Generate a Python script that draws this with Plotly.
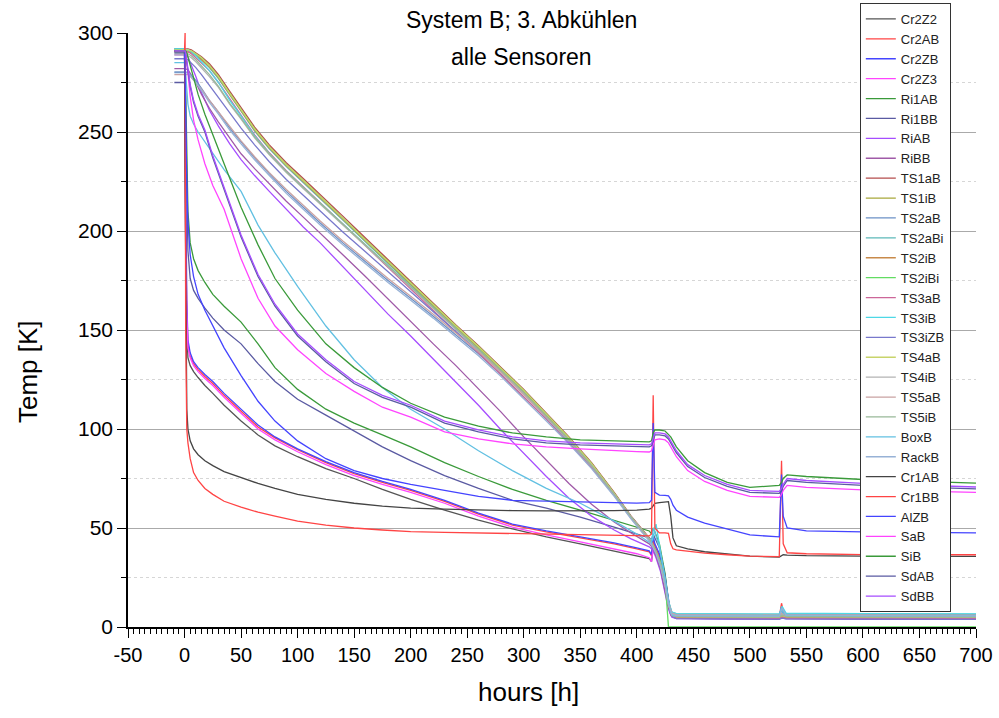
import plotly.graph_objects as go

HOURS_FAST = [-9, 0, 0.5, 1, 2, 3, 5, 8, 12, 18, 25, 35, 50, 65, 80, 100, 125, 150, 175, 200,
              230, 260, 290, 320, 350, 380, 400, 411, 413, 414.5, 416, 420, 425, 428, 430, 432,
              435, 445, 460, 480, 500, 526, 528, 529.5, 533, 550, 600, 700]
HOURS_SLOW = [-9, 0, 3, 6, 10, 15, 22, 30, 40, 50, 62, 75, 90, 105, 120, 140, 160, 180, 200, 220,
              240, 260, 280, 300, 320, 340, 360, 380, 395, 405, 411, 414, 417, 421, 425, 428, 431,
              435, 470, 526, 528.5, 532, 600, 700]

# X tick labels (plain hyphen for the negative value)
X_TICKS = [-50, 0, 50, 100, 150, 200, 250, 300, 350, 400, 450, 500, 550, 600, 650, 700]
X_LABELS = ["-50", "0", "50", "100", "150", "200", "250", "300", "350", "400",
            "450", "500", "550", "600", "650", "700"]

# Temperatures [K] on HOURS_FAST
cr2z2 = [291, 291, 250, 190, 150, 136, 132, 129, 126, 122, 118, 112, 104, 97, 91.5, 86, 80, 75, 69.5, 64.5,
         59, 54, 49.5, 45.5, 42, 38.5, 36, 34.5, 33, 40, 37, 33, 22, 11, 6, 5,
         4.7, 4.5, 4.4, 4.3, 4.3, 4.3, 6, 4.8, 4.5, 4.4, 4.3, 4.3]
cr2ab = [291, 291, 260, 200, 160, 143, 137, 133, 130, 126.5, 123, 117, 109, 101, 95.5, 89.5, 83, 77.5, 73, 69,
         63.5, 57, 51.5, 48, 45, 42, 39.5, 38, 36, 44, 41, 36, 24, 12, 6.5, 5.5,
         5.4, 5.2, 5.1, 5, 5, 5, 12, 8, 5.6, 5.4, 5.3, 5.3]
cr2zb = [291, 291, 265, 210, 165, 145, 138.5, 134, 131, 127.5, 124, 118, 110, 102, 96, 90, 83.5, 78, 73.5, 69.5,
         64, 57.5, 52, 48.5, 45.5, 42.5, 40, 38.5, 36.5, 46, 42, 37, 25, 13, 7, 6,
         5.8, 5.6, 5.5, 5.4, 5.4, 5.4, 10, 6.5, 5.8, 5.6, 5.5, 5.5]
cr2z3 = [291, 291, 255, 195, 158, 141, 136, 132, 129, 125.5, 122, 116, 108, 100, 94.5, 88.5, 82, 76.5, 72, 68,
         62.5, 56, 50.5, 46.5, 43, 39.5, 37, 35, 33, 40, 38, 34, 22, 11, 6, 5,
         4.8, 4.6, 4.5, 4.4, 4.4, 4.4, 7, 5, 4.6, 4.5, 4.4, 4.4]
ri1ab = [291, 291, 288, 270, 235, 210, 194, 186, 180, 174, 168, 162, 154, 143, 131, 120, 110, 103, 97, 91,
         83, 76, 69.5, 64, 59, 54, 50.5, 48.5, 47, 50, 48, 42, 27, 13, 7, 5.5,
         5, 4.8, 4.7, 4.6, 4.6, 4.6, 5.5, 5, 4.7, 4.6, 4.5, 4.5]
ri1bb = [275, 275, 268, 250, 215, 190, 176, 170, 166, 161, 156, 150, 143, 133, 124, 115, 107, 99, 91, 84,
         76.5, 70, 64, 60, 55.5, 50.5, 47, 45, 44, 47, 45, 40, 26, 12, 6.5, 5,
         4.5, 4.3, 4.2, 4.1, 4.1, 4.1, 4.8, 4.4, 4.2, 4.1, 4, 4]
boxb = [285, 285, 283, 278, 270, 264, 258, 254, 250, 245, 239, 231, 220, 203, 189, 172, 152, 135, 121, 110,
        100, 89, 79, 70, 62.5, 53.5, 47, 43, 42, 50, 48, 40, 25, 13, 7, 5.8,
        5.7, 5.6, 5.6, 5.6, 5.6, 5.6, 10, 7, 5.8, 5.7, 5.6, 5.6]
cr1ab = [291, 291, 230, 160, 110, 100, 94, 90, 87, 84, 81.5, 78.5, 75.5, 72.5, 70, 67, 64.5, 62.5, 61, 60,
         59.5, 59, 58.8, 58.6, 58.6, 58.8, 59, 59.5, 60, 61.5, 62.5, 62.8, 63, 63.3, 56, 45,
         41, 39.5, 38, 36.8, 35.8, 35.3, 36, 36.5, 36.3, 36, 35.8, 35.7]
cr1bb = [291, 291, 300, 150, 100, 93, 85, 78, 74, 70, 67, 63.5, 60.5, 58, 56, 53.5, 51.5, 50, 49, 48.2,
         47.8, 47.5, 47.2, 47, 46.7, 46.4, 46.2, 46, 47, 117, 50, 47.5, 47.5, 47.3, 42, 39.5,
         39, 38.2, 37.3, 36.5, 35.8, 35.5, 84, 42, 37.5, 37, 36.6, 36.5]
alzb = [291, 291, 280, 255, 225, 205, 188, 177, 168, 160, 152, 141, 127, 114, 104, 94, 85, 79, 75, 72,
        69, 66, 64, 63.5, 63, 62.8, 62.6, 62.8, 64, 103, 68, 66.6, 66.5, 66.2, 64.5, 61.5,
        59, 55.5, 52.5, 49.5, 46.5, 45.5, 77, 56, 50, 48.5, 48, 47.5]
sab = [291, 291, 291, 290, 286, 280, 268, 256, 246, 234, 223, 211, 186, 166, 152, 140, 128, 119, 111, 106,
       98.5, 95, 92.5, 91, 90, 89, 88.6, 88.4, 89, 92, 94.5, 95, 94.5, 93, 91, 89,
       86, 79, 73.5, 69, 66, 65.5, 67, 69, 71.5, 70.5, 69.3, 68]
sib = [291, 291, 291, 291, 290, 288, 284, 277, 269, 259, 249, 234, 212, 193, 176, 160, 143, 131, 121, 113,
       106, 101.5, 98, 96, 94.5, 94, 93.7, 93.5, 94, 98, 99.5, 99.5, 99, 97.5, 96, 94,
       91, 84, 78, 73, 70.5, 71.5, 73, 75, 76.8, 76, 74.5, 72.7]
sdab = [290, 290, 290, 289, 286, 281, 273, 265, 258, 250, 237, 221, 197, 177, 162, 147, 134, 123, 116, 111,
        103, 98.5, 95, 93, 92, 91.5, 91.2, 91, 91.5, 95, 97, 97, 96.5, 95, 93, 91,
        88, 81, 75.5, 71, 68, 67.5, 69, 71, 74, 73, 71.5, 69.8]
sdbb = [291, 291, 291, 290, 287, 282, 274, 266, 259, 251, 238, 222, 198, 178, 163, 148, 135, 124, 117, 112,
        104, 99.5, 96, 94, 93, 92.5, 92.2, 92, 92.5, 96, 98, 98, 97.5, 96, 94, 92,
        89, 82, 76.5, 72, 69, 68.5, 70, 72, 75, 74, 72.5, 70.7]

# Temperatures [K] on HOURS_SLOW
riab = [289, 289, 288, 284, 278, 270, 261, 253, 244, 236, 228, 220, 211, 202, 194, 182, 170, 158, 147, 135.5,
        124, 112, 99.5, 87.5, 76, 65, 56, 49, 44.5, 42, 40.5, 39, 35, 28, 18, 9, 5,
        4.3, 4.1, 4, 4.8, 4.2, 4.1, 4]
ribb = [282, 282, 281.5, 279, 275, 269, 262, 255, 247, 239, 231.5, 224, 215, 207, 199, 188, 177, 165.5, 154, 143,
        132, 120.5, 108.5, 96, 84, 72.5, 62, 53, 47.5, 44, 42, 40, 36, 29, 19, 10, 5.5,
        4.6, 4.4, 4.3, 5, 4.5, 4.4, 4.3]
ts1ab = [292, 292, 292, 291.5, 290, 288, 284.5, 279, 270.5, 262.5, 252.5, 243.5, 234.5, 226.5, 218.5, 207.5, 196.5, 185.5, 174.5, 163,
         152.5, 142, 131, 120, 108, 96, 83, 68, 56, 49, 45, 42, 38.5, 32, 22, 12, 6.5,
         5.6, 5.4, 5.3, 6.5, 5.6, 5.5, 5.4]
ts1ib = [291, 291, 291, 290.5, 289, 287, 283.5, 278, 269.5, 261.5, 251.5, 242.5, 233.5, 225.5, 217.5, 206.5, 195.5, 184.5, 173.5, 162.5,
         152, 141.5, 130.5, 119.5, 107.5, 95.5, 82.5, 67.5, 55.5, 48.5, 44.5, 41.5, 38, 31, 21, 11, 6,
         5, 4.8, 4.7, 5.2, 4.9, 4.8, 4.8]
ts2ab = [280, 280, 280, 278.5, 276, 272, 266, 260, 252, 245, 237, 229, 220, 212, 204, 194, 184.5, 175, 166, 157,
         147.5, 138, 127.5, 116.5, 105, 93, 80.5, 66.5, 55, 48, 44, 41, 37.5, 31, 21.5, 12, 7,
         6.2, 6, 6, 9, 6.5, 6.3, 6.2]
ts2abi = [292, 292, 291.5, 290.5, 289, 286.5, 282.5, 277, 268.5, 260.5, 250.5, 241.5, 232.5, 224.5, 216.5, 205.5, 194.5, 183.5, 172.5, 161.5,
          151, 140.5, 129.5, 118.5, 106.5, 94.5, 81.5, 67, 55.5, 48.5, 44.5, 41.5, 38, 31.5, 22.5, 13, 7.5,
          6.8, 6.6, 6.5, 8, 6.8, 6.6, 6.5]
ts2ib = [290.5, 290.5, 290.5, 290, 288.5, 286.5, 283, 277.5, 269, 261, 251, 242, 233, 225, 217, 206, 195, 184, 173, 162,
         151.5, 141, 130, 119, 107, 95, 82, 67.5, 55.5, 48.5, 44.5, 41.5, 38, 31.5, 21.5, 11.5, 6,
         4.8, 4.6, 4.5, 5, 4.7, 4.6, 4.5]
ts2ibi = [291.5, 291.5, 291.5, 291, 289.5, 287.5, 283.5, 278, 269.5, 261.5, 251.5, 242.5, 233.5, 225.5, 217.5, 206.5, 195.5, 184.5, 173.5, 162.5,
          152, 141.5, 130.5, 119.5, 107.5, 95.5, 82.5, 67.5, 55.5, 48.5, 44.5, 41.5, 38.5, 33, 24, 0, 0,
          0, 0, 0, 0, 0, 0, 0]
ts3ab = [291, 291, 290.5, 289.5, 287.5, 285, 281, 275, 266.5, 258.5, 248.5, 239.5, 230.5, 222.5, 214.5, 203.5, 192.5, 181.5, 170.5, 159.5,
         149, 138.5, 127.5, 116.5, 105, 93, 80.5, 66.5, 55, 48, 44, 41, 37.5, 31, 21, 11, 5.5,
         4.5, 4.3, 4.2, 4.8, 4.4, 4.3, 4.2]
ts3ib = [292, 292, 291.5, 290.5, 288.5, 285.5, 281, 275, 266, 258, 248, 239, 230, 222, 214, 203.5, 193, 182.5, 172, 161,
         150.5, 140, 129, 118, 106, 94, 81.5, 67, 55.5, 48.5, 44.5, 44, 52, 38, 24, 13, 7.5,
         6.8, 6.6, 6.5, 10.5, 7, 6.7, 6.6]
ts3izb = [287, 287, 286.5, 285, 282.5, 279, 273.5, 267.5, 259.5, 252, 243.5, 235, 226, 218, 210, 199.5, 189.5, 179.5, 169.5, 159.5,
          149.5, 139.5, 129, 118, 106.5, 94.5, 81.5, 67, 55.5, 48.5, 44.5, 41.5, 38, 31.5, 21.5, 11.5, 5.5,
          4.2, 4, 3.9, 4.5, 4.1, 4, 3.9]
ts4ab = [291.5, 291.5, 291.5, 291, 289.5, 287.5, 283.5, 278, 269.5, 261.5, 251.5, 242.5, 233.5, 225.5, 217.5, 206.5, 195.5, 184.5, 173.5, 162.5,
         152, 141.5, 130.5, 119.5, 107.5, 95.5, 82.5, 67.5, 55.5, 48.5, 44.5, 41.5, 38, 31.5, 21.5, 11.5, 6,
         5.2, 5, 5, 5.8, 5.2, 5.1, 5]
ts4ib = [289, 289, 288.5, 287.5, 285.5, 282.5, 278, 272.5, 264, 256.5, 247, 238.5, 229.5, 221.5, 213.5, 203, 192.5, 182, 171.5, 161,
         150.5, 140, 129, 118, 106.5, 94.5, 81.5, 67, 55.5, 48.5, 44.5, 41.5, 38, 31.5, 21.5, 12, 6.5,
         5.8, 5.6, 5.5, 6.5, 5.8, 5.6, 5.5]
ts5ab = [279, 279, 279, 277.5, 275, 271.5, 266, 260, 252.5, 245.5, 237.5, 229.5, 221, 213, 205, 195, 185.5, 176, 167, 158,
         148.5, 139, 128.5, 117.5, 106, 94, 81.5, 67, 55.5, 48.5, 44.5, 41.5, 38, 31.5, 22, 12.5, 7,
         6.3, 6.1, 6, 7, 6.3, 6.1, 6]
ts5ib = [290, 290, 289.5, 288.5, 286.5, 283.5, 279, 273, 264.5, 257, 247.5, 239, 230, 222, 214, 203.5, 193, 182.5, 172, 161.5,
         151, 140.5, 129.5, 118.5, 106.5, 94.5, 81.5, 67, 55.5, 48.5, 44.5, 41.5, 38, 31.5, 21.5, 11.5, 6,
         5.3, 5.1, 5, 6, 5.3, 5.1, 5]
rackb = [280.5, 280.5, 280, 278, 275, 271, 265, 259, 251, 244, 236, 228, 219, 211, 203, 193, 183.5, 174, 165, 156,
         146.5, 137, 126.5, 115.5, 104, 92.5, 80, 66, 54.5, 47.5, 43.5, 40.5, 37, 30.5, 21, 11.5, 6.5,
         5.8, 5.6, 5.5, 9.5, 6, 5.7, 5.6]

# Legend order: name, hour grid, temperatures, colour
SERIES = [
    ("Cr2Z2", HOURS_FAST, cr2z2, "#555555"),
    ("Cr2AB", HOURS_FAST, cr2ab, "#ff4444"),
    ("Cr2ZB", HOURS_FAST, cr2zb, "#4444ff"),
    ("Cr2Z3", HOURS_FAST, cr2z3, "#ff44ff"),
    ("Ri1AB", HOURS_FAST, ri1ab, "#3a9a3a"),
    ("Ri1BB", HOURS_FAST, ri1bb, "#5a5aa2"),
    ("RiAB", HOURS_SLOW, riab, "#a64dff"),
    ("RiBB", HOURS_SLOW, ribb, "#a05aa8"),
    ("TS1aB", HOURS_SLOW, ts1ab, "#b54c4c"),
    ("TS1iB", HOURS_SLOW, ts1ib, "#a8a83a"),
    ("TS2aB", HOURS_SLOW, ts2ab, "#6b90c6"),
    ("TS2aBi", HOURS_SLOW, ts2abi, "#5cb8b8"),
    ("TS2iB", HOURS_SLOW, ts2ib, "#c88a4a"),
    ("TS2iBi", HOURS_SLOW, ts2ibi, "#62dc62"),
    ("TS3aB", HOURS_SLOW, ts3ab, "#cc6699"),
    ("TS3iB", HOURS_SLOW, ts3ib, "#4dd8e6"),
    ("TS3iZB", HOURS_SLOW, ts3izb, "#7878cc"),
    ("TS4aB", HOURS_SLOW, ts4ab, "#c8d46a"),
    ("TS4iB", HOURS_SLOW, ts4ib, "#b3b3b3"),
    ("TS5aB", HOURS_SLOW, ts5ab, "#c9a2a2"),
    ("TS5iB", HOURS_SLOW, ts5ib, "#98b898"),
    ("BoxB", HOURS_FAST, boxb, "#62c0e2"),
    ("RackB", HOURS_SLOW, rackb, "#98b2d6"),
    ("Cr1AB", HOURS_FAST, cr1ab, "#444444"),
    ("Cr1BB", HOURS_FAST, cr1bb, "#ff4444"),
    ("AlZB", HOURS_FAST, alzb, "#4444ff"),
    ("SaB", HOURS_FAST, sab, "#ff44ff"),
    ("SiB", HOURS_FAST, sib, "#3a9a3a"),
    ("SdAB", HOURS_FAST, sdab, "#5a5aa2"),
    ("SdBB", HOURS_FAST, sdbb, "#a64dff"),
]

fig = go.Figure()
for name, hours, temps, color in SERIES:
    fig.add_trace(go.Scatter(x=hours, y=temps, mode="lines", name=name,
                             line=dict(color=color, width=1.3)))

FONT = "Liberation Sans, Arial, sans-serif"

fig.update_layout(
    width=999, height=718,
    margin=dict(l=128, r=23, t=33, b=91, autoexpand=False),
    paper_bgcolor="white", plot_bgcolor="white",
    font=dict(family=FONT, color="black"),
    showlegend=True,
    legend=dict(x=0.863, y=1.0505, xanchor="left", yanchor="top",
                bgcolor="white", bordercolor="#333333", borderwidth=1,
                font=dict(family=FONT, size=13, color="#222222"),
                tracegroupgap=0, itemwidth=30, maxheight=710),
    xaxis=dict(range=[-50, 700], tickmode="array", tickvals=X_TICKS, ticktext=X_LABELS,
               showgrid=False, zeroline=False,
               showline=True, linecolor="black", linewidth=1.5,
               ticks="outside", ticklen=9, tickwidth=1.3, tickcolor="black",
               tickfont=dict(family=FONT, size=20),
               minor=dict(dtick=5, tick0=0, ticks="outside", ticklen=5, tickcolor="black", showgrid=False)),
    yaxis=dict(range=[0, 300], dtick=50, tick0=0, zeroline=False,
               showgrid=True, gridcolor="#aaaaaa", gridwidth=1.3,
               showline=True, linecolor="black", linewidth=1.5,
               ticks="outside", ticklen=9, tickwidth=1.3, tickcolor="black",
               tickfont=dict(family=FONT, size=21),
               minor=dict(dtick=25, ticks="outside", ticklen=5, tickcolor="black",
                          showgrid=True, gridcolor="#d6d6d6", griddash="dot", gridwidth=1)),
    annotations=[
        dict(text="System B; 3. Abkühlen", x=0.4646, y=1.022, xref="paper", yref="paper",
             showarrow=False, font=dict(family=FONT, size=23), xanchor="center", yanchor="middle"),
        dict(text="alle Sensoren", x=0.4646, y=0.960, xref="paper", yref="paper",
             showarrow=False, font=dict(family=FONT, size=23), xanchor="center", yanchor="middle"),
        dict(text="hours [h]", x=(528 - 128) / 848, y=-(692 - 627) / 594, xref="paper", yref="paper",
             showarrow=False, font=dict(family=FONT, size=26), xanchor="center", yanchor="middle"),
        dict(text="Temp [K]", x=-(128 - 28) / 848, y=(627 - 372) / 594, xref="paper", yref="paper",
             showarrow=False, textangle=-90, font=dict(family=FONT, size=26),
             xanchor="center", yanchor="middle"),
    ],
)

fig.write_html("out.html")
